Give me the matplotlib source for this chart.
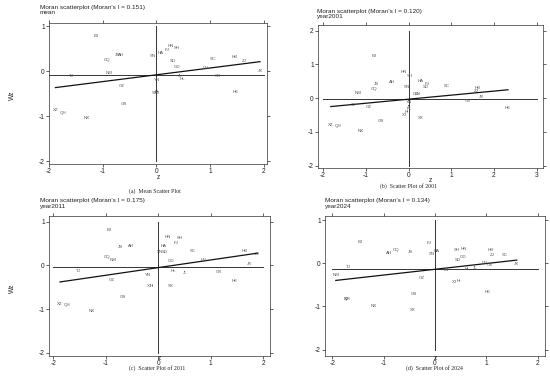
import numpy as np
import matplotlib
matplotlib.use("Agg")
import matplotlib.pyplot as plt

plt.rcParams['font.family'] = ['Liberation Sans', 'DejaVu Sans']

W, H = 550, 386

# ---- data: province labels with (z, Wz) per panel ----
# (a) mean
a_names = ['BJ', 'JS', 'AH', 'CQ', 'NM', 'TJ', 'GZ', 'GS', 'XZ', 'QH', 'NX',
           'SN', 'HA', 'FJ', 'HN', 'SH', 'SD', 'GD', 'YN', 'SX', 'XJ', 'HI',
           'JL', 'HL', 'LN', 'SC', 'HB', 'ZJ', 'GX', 'JX', 'HE']
a_z = [-1.12, -0.72, -0.66, -0.92, -0.88, -1.58, -0.64, -0.60, -1.88, -1.74, -1.29,
       -0.07, 0.07, 0.19, 0.27, 0.38, 0.30, 0.38, 0.02, -0.03, 0.02, 0.0,
       0.44, 0.49, 0.91, 1.05, 1.45, 1.63, 1.15, 1.93, 1.48]
a_wz = [0.78, 0.36, 0.36, 0.25, -0.04, -0.10, -0.32, -0.73, -0.86, -0.92, -1.04,
        0.33, 0.40, 0.48, 0.56, 0.51, 0.22, 0.10, -0.19, -0.48, -0.48, -0.47,
        -0.11, -0.17, 0.08, 0.28, 0.31, 0.22, -0.10, 0.0, -0.47]

# (b) 2001
b_names = ['BJ', 'HN', 'SH', 'HA', 'FJ', 'SD', 'SC', 'AH', 'JS', 'CQ', 'NM',
           'SN', 'GD', 'LN', 'HB', 'ZJ', 'JX', 'GX', 'HE', 'TJ', 'GZ', 'YN',
           'JL', 'HL', 'HI', 'XJ', 'SX', 'GS', 'XZ', 'QH', 'NX']
b_z = [-0.81, -0.12, 0.03, 0.28, 0.43, 0.40, 0.89, -0.38, -0.74, -0.80, -1.18,
       -0.04, 0.18, 0.21, 1.62, 1.59, 1.70, 1.38, 2.33, -1.29, -0.93, 0.0,
       0.01, 0.02, -0.05, -0.10, 0.28, -0.65, -1.82, -1.65, -1.12]
b_wz = [1.26, 0.79, 0.67, 0.52, 0.42, 0.34, 0.36, 0.48, 0.42, 0.26, 0.16,
        0.32, 0.12, 0.12, 0.29, 0.22, 0.04, -0.08, -0.30, -0.20, -0.26, -0.10,
        -0.27, -0.31, -0.40, -0.51, -0.59, -0.67, -0.80, -0.82, -0.96]

# (c) 2011
c_names = ['BJ', 'JS', 'AH', 'CQ', 'NM', 'TJ', 'GZ', 'GS', 'XZ', 'QH', 'NX',
           'YN', 'XJ', 'HI', 'HN', 'SH', 'FJ', 'HA', 'SN', 'SD', 'GD', 'HL',
           'JL', 'SX', 'SC', 'LN', 'HB', 'ZJ', 'JX', 'GX', 'HE']
c_z = [-0.93, -0.72, -0.52, -0.98, -0.86, -1.52, -0.88, -0.68, -1.87, -1.73, -1.26,
       -0.19, -0.16, -0.13, 0.19, 0.41, 0.35, 0.10, 0.04, 0.13, 0.25, 0.29,
       0.51, 0.23, 0.65, 0.87, 1.64, 1.89, 1.73, 1.16, 1.46]
c_wz = [0.82, 0.43, 0.45, 0.19, 0.13, -0.12, -0.33, -0.72, -0.88, -0.91, -1.03,
        -0.21, -0.48, -0.47, 0.66, 0.63, 0.52, 0.45, 0.30, 0.30, 0.11, -0.12,
        -0.18, -0.47, 0.34, 0.13, 0.34, 0.25, 0.04, -0.15, -0.35]

# (d) 2024
d_names = ['BJ', 'AH', 'CQ', 'JS', 'FJ', 'SN', 'HA', 'SH', 'HN', 'SD', 'GD',
           'HB', 'ZJ', 'SC', 'JX', 'LN', 'GX', 'JL', 'HL', 'YN', 'TJ', 'NM',
           'GZ', 'XJ', 'HI', 'GS', 'HE', 'XZ', 'QH', 'NX', 'SX']
d_z = [-1.46, -0.90, -0.76, -0.48, -0.11, -0.07, 0.04, 0.42, 0.57, 0.44, 0.55,
       1.08, 1.12, 1.36, 1.59, 0.97, 1.06, 0.78, 0.64, 0.21, -1.68, -1.93,
       -0.26, 0.38, 0.47, -0.42, 1.03, -1.72, -1.71, -1.19, -0.44]
d_wz = [0.50, 0.23, 0.31, 0.27, 0.47, 0.22, 0.29, 0.30, 0.33, 0.08, 0.14,
        0.30, 0.19, 0.19, -0.02, 0.0, -0.04, -0.10, -0.12, -0.16, -0.08, -0.28,
        -0.33, -0.44, -0.40, -0.70, -0.66, -0.82, -0.82, -0.99, -1.09]

titles = ["Moran scatterplot (Moran's I = 0.151)", "Moran scatterplot (Moran's I = 0.120)",
          "Moran scatterplot (Moran's I = 0.175)", "Moran scatterplot (Moran's I = 0.134)"]
subtitles = ['mean', 'year2001', 'year2011', 'year2024']
captions = ['(a)  Mean Scatter Plot', '(b)  Scatter Plot of 2001',
            '(c)  Scatter Plot of 2011', '(d)  Scatter Plot of 2024']
slopes = [0.151, 0.120, 0.175, 0.134]
intercepts = [-0.08, -0.03, -0.05, -0.137]
hlines = [-0.075, -0.03, -0.045, -0.14]
xticks_list = [[-2, -1, 0, 1, 2], [-2, -1, 0, 1, 2, 3], [-2, -1, 0, 1, 2], [-2, -1, 0, 1, 2]]
yticks_list = [[-2, -1, 0, 1], [-2, -1, 0, 1, 2], [-2, -1, 0, 1], [-2, -1, 0, 1]]

panels = [
    dict(names=a_names, z=a_z, wz=a_wz, box=(49, 267, 23, 164), xlim=(-2.0, 2.06), ylim=(-2.06, 1.07),
         title_xy=(40, 7), xlab_y=177, cap_xy=(155, 191), ylab=True),
    dict(names=b_names, z=b_z, wz=b_wz, box=(318, 543, 25, 168), xlim=(-2.12, 3.15), ylim=(-2.07, 2.17),
         title_xy=(317, 11), xlab_y=181, cap_xy=(408, 186), ylab=False),
    dict(names=c_names, z=c_z, wz=c_wz, box=(49, 270, 216, 356), xlim=(-2.08, 2.13), ylim=(-2.07, 1.13),
         title_xy=(40, 201), xlab_y=358, cap_xy=(157, 368), ylab=True),
    dict(names=d_names, z=d_z, wz=d_wz, box=(325, 545, 216, 356), xlim=(-2.14, 2.14), ylim=(-2.15, 1.10),
         title_xy=(325, 201), xlab_y=359, cap_xy=(434, 368), ylab=False),
]

fig = plt.figure(figsize=(W / 100, H / 100), dpi=100)


def px(x, y):
    return x / W, 1 - y / H


for i, p in enumerate(panels):
    l, r, t, b = p['box']
    ax = fig.add_axes([l / W, 1 - b / H, (r - l) / W, (b - t) / H])
    ax.set_xlim(*p['xlim'])
    ax.set_ylim(*p['ylim'])
    xt = xticks_list[i]
    yt = yticks_list[i]
    ax.set_xticks(xt)
    ax.set_yticks(yt)
    ax.tick_params(axis='both', which='both', direction='out', length=2, width=0.5,
                   labelsize=4.8, pad=1, top=True, right=True, colors='#222222')
    ax.set_xticklabels([str(v) for v in xt])
    ax.set_yticklabels([str(v) for v in yt])
    for s in ax.spines.values():
        s.set_linewidth(0.5)
        s.set_color('#333333')

    # reference lines
    ax.plot([xt[0], xt[-1]], [hlines[i], hlines[i]], color='#333333', lw=0.7)
    ax.plot([0, 0], [yt[0], yt[-1]], color='#333333', lw=0.7)
    # regression line
    zz = np.array([min(p['z']), max(p['z'])])
    ax.plot(zz, slopes[i] * zz + intercepts[i], color='#111111', lw=0.9)

    for n, x, y in zip(p['names'], p['z'], p['wz']):
        ax.text(x, y, n, fontsize=3.2, color='#555555', ha='center', va='center')

    fx, fy = px(*p['title_xy'])
    fig.text(fx, fy, titles[i], fontsize=4.6, ha='left', va='center', color='#222222')
    fig.text(fx, fy - 5.5 / H, subtitles[i], fontsize=4.6, ha='left', va='center', color='#222222')

    cx = (l + r) / 2 / W
    fig.text(cx, 1 - p['xlab_y'] / H, 'z', fontsize=4.8, ha='center', va='center', color='#222222')
    if p['ylab']:
        fig.text(12 / W, 1 - ((t + b) / 2 + 2) / H, 'Wz', fontsize=4.8, rotation=90,
                 ha='center', va='center', color='#222222')

    cxx, cyy = px(*p['cap_xy'])
    fig.text(cxx, cyy, captions[i], fontsize=4.2, family='Liberation Serif', ha='center',
             va='center', color='#222222')

fig.savefig('out.png', dpi=100)
